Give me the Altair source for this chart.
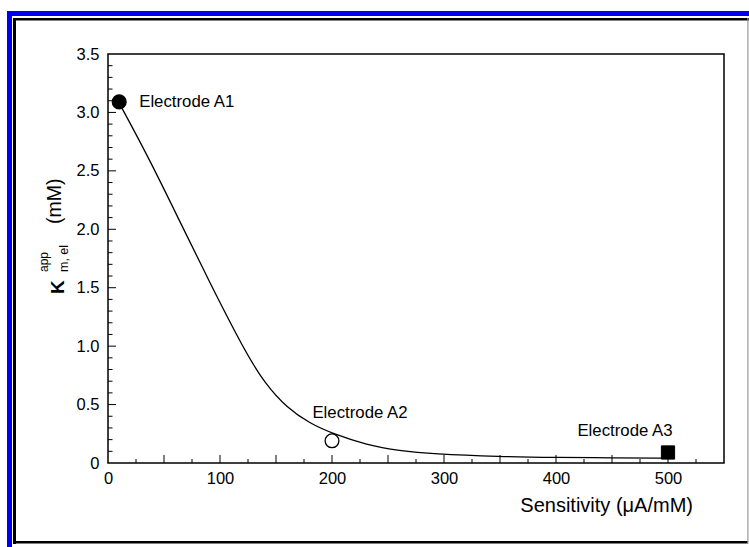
import altair as alt
import pandas as pd

# ---- data ----
curve_x = [10, 37, 64, 91, 122, 140, 160, 180, 201, 231, 260, 290, 350, 400, 450, 500]
curve_y = [3.08, 2.60, 2.07, 1.54, 0.96, 0.68, 0.47, 0.34, 0.25, 0.155, 0.105, 0.077, 0.055, 0.048, 0.044, 0.042]

pt_name = ["Electrode A1", "Electrode A2", "Electrode A3"]
pt_x = [10, 200, 500]
pt_y = [3.09, 0.19, 0.09]
pt_shape = ["circle", "circle", "square"]
pt_fill = ["black", "white", "black"]

x_labels = [0, 100, 200, 300, 400, 500]
y_labels = [0, 0.5, 1.0, 1.5, 2.0, 2.5, 3.0, 3.5]
x_major = [50, 100, 150, 200, 250, 300, 350, 400, 450, 500]
x_minor = [25, 75, 125, 175, 225, 275, 325, 375, 425, 475, 525]
y_major = [0.5, 1.0, 1.5, 2.0, 2.5, 3.0]
y_minor = [v / 10 for v in range(1, 35) if v % 5 != 0]

FONT = "Liberation Sans"
W, H = 616, 409

curve_df = pd.DataFrame({"x": curve_x, "y": curve_y})
pts_df = pd.DataFrame({"name": pt_name, "x": pt_x, "y": pt_y, "shape": pt_shape, "fill": pt_fill})
one = pd.DataFrame({"a": [0]})

xs = alt.Scale(domain=[0, 550], nice=False, zero=False)
ys = alt.Scale(domain=[0, 3.5], nice=False, zero=False)

base_axes = alt.Chart(curve_df).mark_line(
    color="black", strokeWidth=1.3, interpolate="basis"
).encode(
    x=alt.X("x:Q", scale=xs, title="",
            axis=alt.Axis(values=x_labels, ticks=False, domain=False, grid=False,
                          labelFontSize=16.5, labelPadding=7, labelColor="black",
                          labelFont=FONT, labelFlush=False)),
    y=alt.Y("y:Q", scale=ys, title="",
            axis=alt.Axis(values=y_labels, ticks=False, domain=False, grid=False,
                          labelFontSize=16.5, labelPadding=9, labelColor="black",
                          labelFont=FONT, labelFlush=False,
                          labelExpr="datum.value == 0 ? '0' : format(datum.value, '.1f')")),
)

def xticks(vals, length):
    return alt.Chart(pd.DataFrame({"v": vals})).mark_rule(color="black", strokeWidth=1).encode(
        x=alt.X("v:Q", scale=xs), y=alt.value(H), y2=alt.value(H - length))

def yticks(vals, length):
    return alt.Chart(pd.DataFrame({"v": vals})).mark_rule(color="black", strokeWidth=1).encode(
        y=alt.Y("v:Q", scale=ys), x=alt.value(0), x2=alt.value(length))

circles = alt.Chart(pts_df).transform_filter("datum.shape == 'circle'").mark_point(
    shape="circle", size=190, stroke="black", strokeWidth=1.3, opacity=1, filled=False
).encode(
    x=alt.X("x:Q", scale=xs), y=alt.Y("y:Q", scale=ys),
    fill=alt.Fill("fill:N", scale=None),
)
squares = alt.Chart(pts_df).transform_filter("datum.shape == 'square'").mark_point(
    shape="square", size=175, stroke="black", strokeWidth=1, fill="black", opacity=1, filled=True
).encode(x=alt.X("x:Q", scale=xs), y=alt.Y("y:Q", scale=ys))

def label(name, dx, dy, align):
    return alt.Chart(pts_df).transform_filter(f"datum.name == '{name}'").mark_text(
        font=FONT, fontSize=16.8, color="black", align=align, baseline="alphabetic", dx=dx, dy=dy
    ).encode(x=alt.X("x:Q", scale=xs), y=alt.Y("y:Q", scale=ys), text="name:N")

lab1 = label("Electrode A1", 20, 5, "left")
lab2 = label("Electrode A2", 28, -23, "center")
lab3 = label("Electrode A3", -43, -16, "center")

def txt(s, x, y, size, angle=0, align="left", weight="normal"):
    return alt.Chart(one).mark_text(
        text=s, font=FONT, fontSize=size, color="black", align=align,
        baseline="alphabetic", angle=angle, fontWeight=weight
    ).encode(x=alt.value(x), y=alt.value(y))

xtitle = txt("Sensitivity (\u03bcA/mM)", 585, 458, 20, align="right")
yK = txt("K", -44, 240, 19, angle=270, weight="bold")
yapp = txt("app", -60, 218, 12, angle=270)
ysub = txt("m, el", -40, 218, 12.5, angle=270)
ymm = txt("(mM)", -47, 170, 19.5, angle=270)

def rect(x, x2, y, y2, color):
    return alt.Chart(one).mark_rect(color=color).encode(
        x=alt.value(x), x2=alt.value(x2), y=alt.value(y), y2=alt.value(y2))

frame = [
    rect(-101, 641, -43, -38, "#0000ee"),
    rect(-101, -96, -43, 493, "#0000ee"),
    rect(-95, 641, -36, -33.5, "black"),
    rect(-95, -92, -36, 490, "black"),
    rect(-95, 640, 487, 489.5, "black"),
    rect(639.3, 640.5, -36, 489.5, "#999999"),
]

chart = alt.layer(
    *frame,
    base_axes,
    xticks(x_major, 8), xticks(x_minor, 4),
    yticks(y_major, 8), yticks(y_minor, 4.5),
    circles, squares, lab1, lab2, lab3,
    xtitle, yK, yapp, ysub, ymm,
).properties(
    width=W, height=H,
    autosize=alt.AutoSizeParams(type="none"),
    padding={"left": 108, "top": 54, "right": 25, "bottom": 84},
    background="white",
).configure_view(
    stroke="black", strokeWidth=1.5
)

chart.save("out.html", embed_options={"renderer": "svg", "actions": False})
